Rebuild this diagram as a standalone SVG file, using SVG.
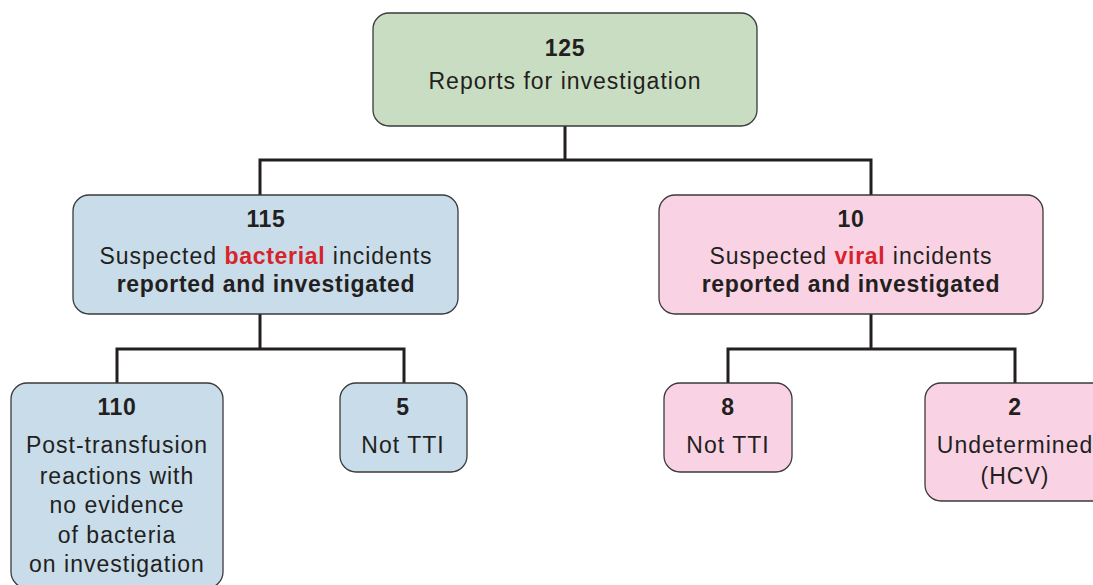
<svg xmlns="http://www.w3.org/2000/svg" width="1093" height="585" viewBox="0 0 1093 585">
<style>
.box{stroke:#3a3a3a;stroke-width:1.3}
.g{fill:#c8ddc1}.b{fill:#c8dcea}.p{fill:#f9d3e4}
text{font-family:"Liberation Sans",Arial,sans-serif;font-size:23px;fill:#231f20;text-anchor:middle;letter-spacing:1px}
.bd{font-weight:bold;letter-spacing:0.7px}
.red{fill:#d7242c;font-weight:bold;letter-spacing:0.7px}
.conn{fill:none;stroke:#231f20;stroke-width:3}
</style>
<rect width="1093" height="585" fill="#fff"/>
<g id="connectors">
<path class="conn" d="M565 126V160M260 195V160H871V195"/>
<path class="conn" d="M260 314V349M117 383V349H404V383"/>
<path class="conn" d="M871 314V349M728 383V349H1015V383"/>
</g>
<g id="n125">
<rect class="box g" x="373" y="13" width="384" height="113" rx="16"/>
<text x="565" y="56" class="bd">125</text>
<text x="565" y="89">Reports for investigation</text>
</g>
<g id="n115">
<rect class="box b" x="73" y="195" width="385" height="119" rx="16"/>
<text x="266" y="227" class="bd">115</text>
<text x="266" y="264">Suspected <tspan class="red">bacterial</tspan> incidents</text>
<text x="266" y="292" class="bd">reported and investigated</text>
</g>
<g id="n10">
<rect class="box p" x="659" y="195" width="384" height="119" rx="16"/>
<text x="851" y="227" class="bd">10</text>
<text x="851" y="264">Suspected <tspan class="red">viral</tspan> incidents</text>
<text x="851" y="292" class="bd">reported and investigated</text>
</g>
<g id="n110">
<rect class="box b" x="11" y="383" width="212" height="205" rx="16"/>
<text x="117" y="415" class="bd">110</text>
<text x="117" y="453">Post-transfusion</text>
<text x="117" y="484">reactions with</text>
<text x="117" y="513">no evidence</text>
<text x="117" y="543">of bacteria</text>
<text x="117" y="572">on investigation</text>
</g>
<g id="n5">
<rect class="box b" x="340" y="383" width="127" height="89" rx="16"/>
<text x="403" y="415" class="bd">5</text>
<text x="403" y="453">Not TTI</text>
</g>
<g id="n8">
<rect class="box p" x="664" y="383" width="128" height="89" rx="16"/>
<text x="728" y="415" class="bd">8</text>
<text x="728" y="453">Not TTI</text>
</g>
<g id="n2">
<rect class="box p" x="925" y="383" width="190" height="118" rx="16"/>
<text x="1015" y="415" class="bd">2</text>
<text x="1015" y="453">Undetermined</text>
<text x="1015" y="484">(HCV)</text>
</g>
</svg>
